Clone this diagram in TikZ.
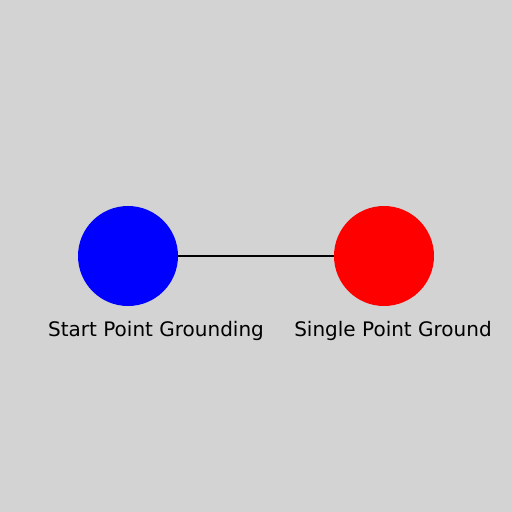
\documentclass[tikz,border=0pt]{standalone}
\usepackage{fontspec}
\setmainfont{DejaVu Sans}
\definecolor{bg}{RGB}{211,211,211}
\begin{document}
\begin{tikzpicture}[x=1pt,y=-1pt,
  dot/.style={circle,minimum size=100pt,inner sep=0pt},
  lbl/.style={font=\fontsize{20pt}{24pt}\selectfont,inner sep=0pt,anchor=base}]
\fill[bg] (0,0) rectangle (512,512);
\useasboundingbox (0,0) rectangle (512,512);
\node[dot,fill=blue] (a) at (128,256) {};
\node[dot,fill=red] (b) at (384,256) {};
\draw[line width=1.5pt] (a) -- (b);
\node[lbl] (la) at (156,336.5) {Start Point Grounding};
\node[lbl] (lb) at (393,336.5) {Single Point Ground};
\end{tikzpicture}
\end{document}
